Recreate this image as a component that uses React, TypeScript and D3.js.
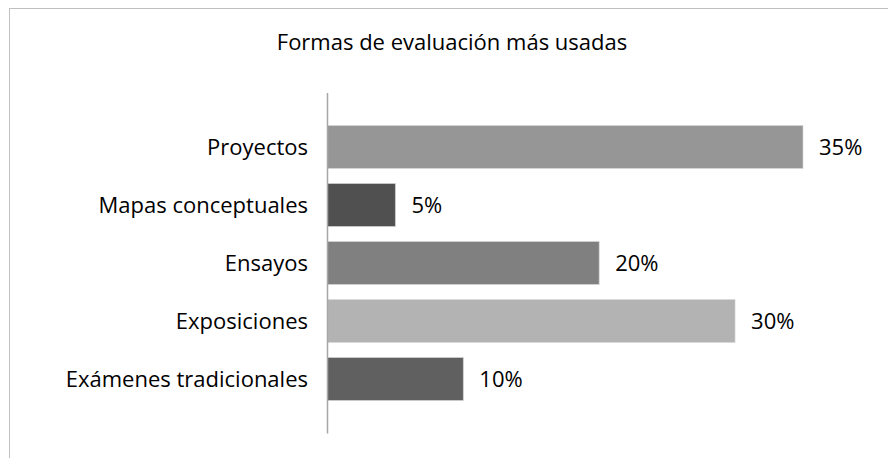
import React from "react";
import * as d3 from "d3";

const title = "Formas de evaluación más usadas";
const categories = [
  "Proyectos",
  "Mapas conceptuales",
  "Ensayos",
  "Exposiciones",
  "Exámenes tradicionales",
];
const values = [35, 5, 20, 30, 10];
const colors = ["#969696", "#505050", "#808080", "#b3b3b3", "#606060"];

const W = 888;
const H = 458;
const FONT = "'Open Sans', sans-serif";
const FS = 22;

export default function App() {
  const x0 = 327.5;
  const x = d3.scaleLinear().domain([0, 35]).range([x0, 803]);
  const y = d3
    .scaleBand<string>()
    .domain(categories)
    .range([118, 408])
    .paddingInner(0.259)
    .paddingOuter(0.1295);

  return (
    <svg
      width={W}
      height={H}
      style={{ position: "absolute", left: 0, top: 0, background: "#fff" }}
      fontFamily={FONT}
    >
      <rect x={9.5} y={8.5} width={W + 20} height={H + 20} fill="#fff" stroke="#c0c0c0" strokeWidth={1} />
      <text x={452} y={50} textAnchor="middle" fontSize={FS} fill="#000">
        {title}
      </text>
      {categories.map((c, i) => {
        const by = y(c)!;
        const bh = y.bandwidth();
        const cy = by + bh / 2;
        return (
          <g key={c}>
            <rect
              x={x(0)}
              y={by}
              width={x(values[i]) - x(0)}
              height={bh}
              fill={colors[i]}
              stroke="#d9d9d9"
              strokeOpacity={0.6}
              strokeWidth={1}
            />
            <text x={308} y={cy} dy="0.35em" textAnchor="end" fontSize={FS} fill="#000">
              {c}
            </text>
            <text x={x(values[i]) + 16} y={cy} dy="0.35em" fontSize={FS} fill="#000">
              {values[i] + "%"}
            </text>
          </g>
        );
      })}
      <line x1={x0} x2={x0} y1={93} y2={433.5} stroke="#a6a6a6" strokeWidth={1.5} />
    </svg>
  );
}
